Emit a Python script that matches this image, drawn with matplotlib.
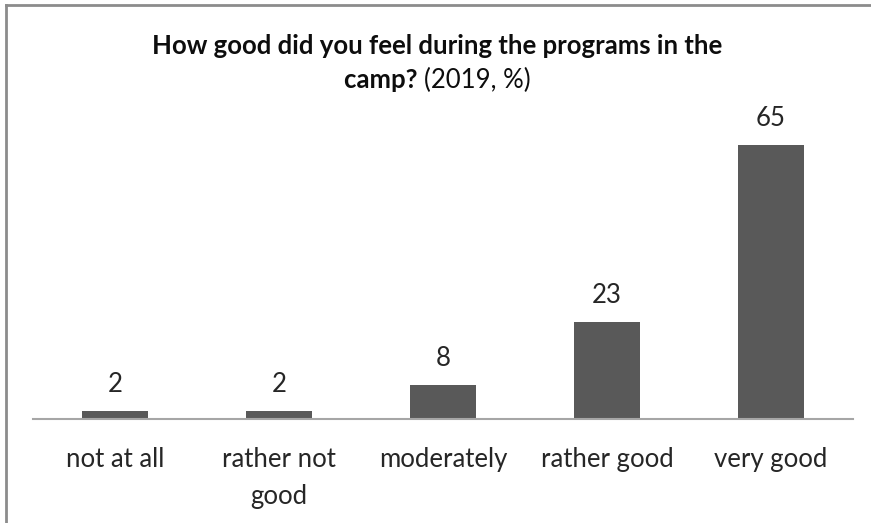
import matplotlib.pyplot as plt
from matplotlib.lines import Line2D

categories = ['not at all', 'rather not\ngood', 'moderately', 'rather good', 'very good']
values = [2, 2, 8, 23, 65]

W, H = 871, 523
plt.rcParams['font.family'] = ['Lato', 'DejaVu Sans']

fig = plt.figure(figsize=(W / 100, H / 100), dpi=100)
ax = fig.add_axes([33 / W, 1 - 419 / H, 820 / W, 295 / H])

x = range(len(categories))
bars = ax.bar(x, values, width=0.4, color='#595959')
ax.set_xlim(-0.5, len(categories) - 0.5)
ax.set_ylim(0, 70)

for b, v in zip(bars, values):
    ax.annotate(str(v), (b.get_x() + b.get_width() / 2, v), xytext=(0, 10),
                textcoords='offset points', ha='center', va='bottom',
                fontsize=18.5, color='#262626')

ax.set_xticks(list(x))
ax.set_xticklabels(categories, fontsize=18.5, color='#262626', linespacing=1.6, va='top')
ax.tick_params(axis='x', length=0, pad=20)
ax.set_yticks([])
for s in ['top', 'right', 'left']:
    ax.spines[s].set_visible(False)
ax.spines['bottom'].set_color('#a6a6a6')
ax.spines['bottom'].set_linewidth(1.5)

# title: first line bold, second line mixed
fig.text(437 / W, 1 - 46 / H, 'How good did you feel during the programs in the',
         ha='center', va='center', fontsize=18.5, fontweight='bold', color='#0d0d0d')
fig.canvas.draw()
r = fig.canvas.get_renderer()
t1 = fig.text(0, 1 - 80 / H, 'camp? ', ha='left', va='center', fontsize=18.5,
              fontweight='bold', color='#0d0d0d')
t2 = fig.text(0, 1 - 80 / H, '(2019, %)', ha='left', va='center', fontsize=18.5,
              color='#0d0d0d')
w1 = t1.get_window_extent(r).width
w2 = t2.get_window_extent(r).width
start = 437 - (w1 + w2) / 2
t1.set_x(start / W)
t2.set_x((start + w1) / W)

# outer frame (top and left edges visible)
fig.add_artist(Line2D([6 / W, 1], [1 - 4.5 / H, 1 - 4.5 / H], color='#8c8c8c', lw=2,
                      transform=fig.transFigure))
fig.add_artist(Line2D([6 / W, 6 / W], [0, 1 - 4.5 / H], color='#8c8c8c', lw=2,
                      transform=fig.transFigure))

fig.savefig('out.png', dpi=100)
